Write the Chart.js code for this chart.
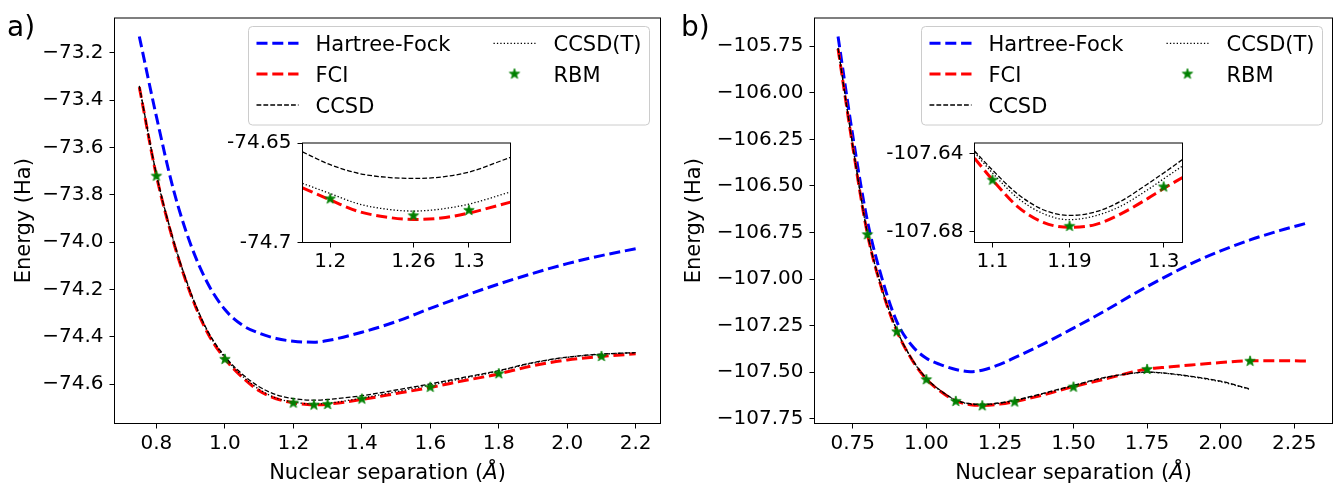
<!DOCTYPE html>
<html>
<head>
<meta charset="utf-8">
<script src="https://cdn.jsdelivr.net/npm/chart.js@4.4.0/dist/chart.umd.min.js"></script>
<style>
  html, body { margin: 0; padding: 0; background: #fff; }
  #wrap { position: relative; width: 1340px; height: 485px; overflow: hidden; font-family: 'DejaVu Sans', sans-serif; }
  #wrap canvas { position: absolute; }
  .tag { position: absolute; font-size: 28px; line-height: 28px; color: #000; white-space: nowrap; }
</style>
</head>
<body>
<div id="wrap">
  <canvas id="mainA" width="670" height="485" style="left:0;top:0"></canvas>
  <canvas id="mainB" width="670" height="485" style="left:670px;top:0"></canvas>
  <canvas id="insetA" width="300" height="150" style="left:220px;top:125px"></canvas>
  <canvas id="insetB" width="315" height="150" style="left:880px;top:125px"></canvas>
  <div class="tag" style="left:7px;top:13px">a)</div>
  <div class="tag" style="left:681px;top:13px">b)</div>
</div>
<script>
// ---- panel a) ----
const sepA = [0.75, 0.8, 0.85, 0.9, 0.95, 1.0, 1.05, 1.1, 1.15, 1.2, 1.26, 1.3, 1.4, 1.5, 1.6, 1.7, 1.8, 1.9, 2.0, 2.1, 2.2];
const hartreeFockA = [-73.131, -73.47, -73.78, -74.01, -74.175, -74.285, -74.35, -74.385, -74.407, -74.419, -74.423, -74.416, -74.381, -74.336, -74.28, -74.227, -74.177, -74.132, -74.091, -74.057, -74.028];
const fciA = [-73.345, -73.72, -74.00, -74.22, -74.385, -74.493, -74.570, -74.628, -74.662, -74.679, -74.688, -74.685, -74.665, -74.640, -74.614, -74.585, -74.557, -74.522, -74.498, -74.483, -74.472];
const ccsdA = [-73.34, -73.714, -73.993, -74.212, -74.376, -74.483, -74.557, -74.611, -74.645, -74.661, -74.668, -74.665, -74.649, -74.625, -74.599, -74.571, -74.543, -74.509, -74.486, -74.473, -74.467];
const ccsdtA = [-73.343, -73.717, -73.997, -74.217, -74.381, -74.489, -74.565, -74.622, -74.659, -74.676, -74.684, -74.681, -74.659, -74.632, -74.604, -74.575, -74.545, -74.511, -74.487, -74.474, -74.467];
const rbmSepA = [0.8, 1.0, 1.2, 1.26, 1.3, 1.4, 1.6, 1.8, 2.1];
const rbmA = [-73.719, -74.493, -74.6778, -74.6863, -74.6836, -74.661, -74.611, -74.554, -74.481];
const xTicksA = [0.8, 1.0, 1.2, 1.4, 1.6, 1.8, 2.0, 2.2];
const xLabelsA = ['0.8', '1.0', '1.2', '1.4', '1.6', '1.8', '2.0', '2.2'];
const yTicksA = [-74.6, -74.4, -74.2, -74.0, -73.8, -73.6, -73.4, -73.2];
const yLabelsA = ['\u221274.6', '\u221274.4', '\u221274.2', '\u221274.0', '\u221273.8', '\u221273.6', '\u221273.4', '\u221273.2'];

// inset of panel a)
const insetSepA = [1.18, 1.2, 1.22, 1.24, 1.26, 1.28, 1.3, 1.33];
const insetFciA = [-74.6725, -74.6786, -74.6843, -74.6872, -74.6884, -74.6877, -74.6852, -74.6797];
const insetCcsdA = [-74.6545, -74.6609, -74.6652, -74.6672, -74.6678, -74.6671, -74.6646, -74.6572];
const insetCcsdtA = [-74.6703, -74.6754, -74.6805, -74.6832, -74.6842, -74.6832, -74.6807, -74.6746];
const insetXTicksA = [1.2, 1.26, 1.3];
const insetXLabelsA = ['1.2', '1.26', '1.3'];
const insetYTicksA = [-74.7, -74.65];
const insetYLabelsA = ['-74.7', '-74.65'];

// ---- panel b) ----
const sepB = [0.7, 0.75, 0.8, 0.85, 0.9, 0.95, 1.0, 1.05, 1.1, 1.15, 1.19, 1.25, 1.3, 1.4, 1.5, 1.6, 1.7, 1.75, 1.8, 1.9, 2.0, 2.1, 2.2, 2.3];
const hartreeFockB = [-105.698, -106.23, -106.69, -107.00, -107.23, -107.355, -107.425, -107.46, -107.485, -107.497, -107.489, -107.458, -107.422, -107.346, -107.263, -107.177, -107.084, -107.04, -106.998, -106.917, -106.849, -106.79, -106.74, -106.697];
const fciB = [-105.764, -106.29, -106.759, -107.06, -107.28, -107.43, -107.537, -107.605, -107.6535, -107.674, -107.6779, -107.671, -107.658, -107.62, -107.577, -107.539, -107.499, -107.482, -107.475, -107.461, -107.448, -107.438, -107.438, -107.44];
const ccsdB = [-105.76, -106.285, -106.755, -107.055, -107.275, -107.426, -107.532, -107.600, -107.649, -107.669, -107.6718, -107.664, -107.650, -107.612, -107.570, -107.530, -107.505, -107.499, -107.503, -107.522, -107.548, -107.59, null, null];
const ccsdtB = [-105.762, -106.287, -106.757, -107.057, -107.277, -107.428, -107.534, -107.602, -107.651, -107.671, -107.674, -107.667, -107.653, -107.615, -107.573, -107.532, -107.506, -107.5, -107.504, -107.524, -107.551, -107.592, null, null];
const rbmSepB = [0.8, 0.9, 1.0, 1.1, 1.19, 1.3, 1.5, 1.75, 2.1];
const rbmB = [-106.759, -107.28, -107.537, -107.6534, -107.6771, -107.6569, -107.577, -107.482, -107.438];
const xTicksB = [0.75, 1.0, 1.25, 1.5, 1.75, 2.0, 2.25];
const xLabelsB = ['0.75', '1.00', '1.25', '1.50', '1.75', '2.00', '2.25'];
const yTicksB = [-107.75, -107.5, -107.25, -107.0, -106.75, -106.5, -106.25, -106.0, -105.75];
const yLabelsB = ['\u2212107.75', '\u2212107.50', '\u2212107.25', '\u2212107.00', '\u2212106.75', '\u2212106.50', '\u2212106.25', '\u2212106.00', '\u2212105.75'];

// inset of panel b)
const insetSepB = [1.079, 1.1, 1.13, 1.16, 1.19, 1.22, 1.25, 1.28, 1.3, 1.322];
const insetFciB = [-107.6424, -107.6535, -107.6675, -107.6755, -107.6779, -107.6765, -107.671, -107.6635, -107.658, -107.6523];
const insetCcsdB = [-107.6387, -107.6485, -107.661, -107.669, -107.6718, -107.670, -107.6645, -107.656, -107.650, -107.6431];
const insetCcsdtB = [-107.6395, -107.650, -107.663, -107.671, -107.674, -107.672, -107.667, -107.659, -107.653, -107.6464];
const insetXTicksB = [1.1, 1.19, 1.3];
const insetXLabelsB = ['1.1', '1.19', '1.3'];
const insetYTicksB = [-107.68, -107.64];
const insetYLabelsB = ['-107.68', '-107.64'];

const FONT = "'DejaVu Sans', sans-serif";
Chart.defaults.font.family = FONT;
Chart.defaults.color = '#000';

function pts(xs, ys) {
    const out = [];
    xs.forEach((x, i) => { if (ys[i] !== null) out.push({ x: x, y: ys[i] }); });
    return out;
}

function drawStar(ctx, cx, cy, r) {
    ctx.beginPath();
    for (let k = 0; k < 10; k++) {
        const rr = k % 2 === 0 ? r : r * 0.4;
        const a = -Math.PI / 2 + k * Math.PI / 5;
        ctx.lineTo(cx + rr * Math.cos(a), cy + rr * Math.sin(a));
    }
    ctx.closePath();
    ctx.fillStyle = '#008000';
    ctx.fill();
    ctx.lineWidth = 0.8;
    ctx.strokeStyle = '#008000';
    ctx.stroke();
}

// star marker used as point style
const starImg = document.createElement('canvas');
starImg.width = 14;
starImg.height = 14;
drawStar(starImg.getContext('2d'), 7, 7.5, 5.5);

function lineSet(label, data, color, width, dash, order, clip) {
    return {
        label: label, data: data, borderColor: color, borderWidth: width, borderDash: dash,
        pointRadius: 0, fill: false, cubicInterpolationMode: 'monotone', order: order, clip: clip
    };
}

function starSet(label, data, order, clip) {
    return {
        label: label, data: data, showLine: false, pointStyle: starImg, pointRadius: 6,
        borderColor: '#008000', backgroundColor: '#008000', order: order, clip: clip
    };
}

function axis(o) {
    return {
        type: 'linear', min: o.min, max: o.max, bounds: 'data',
        afterBuildTicks: s => { s.ticks = o.ticks.map(v => ({ value: v })); },
        afterFit: o.fit,
        ticks: {
            callback: (v, i) => o.labels[i], color: '#000', font: { family: FONT, size: 20 },
            padding: o.pad, autoSkip: false, maxRotation: 0, minRotation: 0
        },
        grid: { drawOnChartArea: false, drawTicks: true, tickLength: 5, color: '#000', lineWidth: 1 },
        border: { display: false },
        title: o.title
            ? { display: true, text: o.title, color: '#000', font: { family: FONT, size: 21 }, padding: o.titlePad }
            : { display: false }
    };
}

// white background + black box around the axes
const framePlugin = {
    id: 'frame',
    beforeDraw(chart, args, opts) {
        const ctx = chart.ctx, a = chart.chartArea;
        ctx.save();
        ctx.fillStyle = '#fff';
        if (opts.full) ctx.fillRect(0, 0, chart.width, chart.height);
        else ctx.fillRect(a.left, a.top, a.right - a.left, a.bottom - a.top);
        ctx.restore();
    },
    afterDatasetsDraw(chart) {
        const ctx = chart.ctx, a = chart.chartArea;
        ctx.save();
        ctx.strokeStyle = '#000';
        ctx.lineWidth = 1;
        ctx.strokeRect(a.left, a.top, a.right - a.left, a.bottom - a.top);
        ctx.restore();
    },
    afterDraw(chart, args, opts) {
        // x title with the italic angstrom sign, as matplotlib mathtext draws it
        if (!opts.xTitle) return;
        const ctx = chart.ctx, a = chart.chartArea;
        const parts = [['Nuclear separation (', ''], ['\u00c5', 'italic '], [')', '']];
        ctx.save();
        ctx.fillStyle = '#000';
        ctx.textBaseline = 'alphabetic';
        ctx.textAlign = 'left';
        let total = 0;
        parts.forEach(p => { ctx.font = p[1] + '21px ' + FONT; total += ctx.measureText(p[0]).width; });
        let x = (a.left + a.right) / 2 - total / 2;
        parts.forEach(p => {
            ctx.font = p[1] + '21px ' + FONT;
            ctx.fillText(p[0], x, 479);
            x += ctx.measureText(p[0]).width;
        });
        ctx.restore();
    }
};

// two-column legend in a rounded box, column-major like matplotlib
const legendPlugin = {
    id: 'boxLegend',
    afterDraw(chart, args, o) {
        if (!o || o.left === undefined) return;
        const ctx = chart.ctx;
        const r = 4, x = o.left, y = o.top, w = o.w, h = o.h;
        ctx.save();
        ctx.beginPath();
        ctx.moveTo(x + r, y);
        ctx.lineTo(x + w - r, y);
        ctx.quadraticCurveTo(x + w, y, x + w, y + r);
        ctx.lineTo(x + w, y + h - r);
        ctx.quadraticCurveTo(x + w, y + h, x + w - r, y + h);
        ctx.lineTo(x + r, y + h);
        ctx.quadraticCurveTo(x, y + h, x, y + h - r);
        ctx.lineTo(x, y + r);
        ctx.quadraticCurveTo(x, y, x + r, y);
        ctx.closePath();
        ctx.fillStyle = 'rgba(255,255,255,0.8)';
        ctx.fill();
        ctx.strokeStyle = '#cccccc';
        ctx.lineWidth = 1;
        ctx.stroke();

        const rows = [16.8, 47.5, 78.5];
        const cols = [{ h0: 8, h1: 50, t: 67 }, { h0: 245, h1: 287, t: 305 }];
        ctx.font = '21px ' + FONT;
        ctx.textBaseline = 'alphabetic';
        ctx.textAlign = 'left';
        chart.data.datasets.forEach((ds, i) => {
            const c = cols[Math.floor(i / 3)];
            const yy = y + rows[i % 3];
            if (ds.showLine === false) {
                ctx.drawImage(starImg, x + (c.h0 + c.h1) / 2 - 7, yy - 7.5);
            } else {
                ctx.beginPath();
                ctx.setLineDash(ds.borderDash);
                ctx.strokeStyle = ds.borderColor;
                ctx.lineWidth = ds.borderWidth;
                ctx.moveTo(x + c.h0, yy);
                ctx.lineTo(x + c.h1, yy);
                ctx.stroke();
                ctx.setLineDash([]);
            }
            ctx.fillStyle = '#000';
            ctx.fillText(ds.label, x + c.t, yy + 7.7);
        });
        ctx.restore();
    }
};

function mainPanel(id, d) {
    return new Chart(document.getElementById(id), {
        type: 'line',
        data: {
            datasets: [
                lineSet('Hartree-Fock', pts(d.sep, d.hf), '#0000ff', 3, [11, 4.8], 5),
                lineSet('FCI', pts(d.sep, d.fci), '#ff0000', 3, [11, 4.8], 4),
                lineSet('CCSD', pts(d.sep, d.ccsd), '#000000', 1.3, [4.8, 2.1], 3),
                lineSet('CCSD(T)', pts(d.sep, d.ccsdt), '#000000', 1.3, [1.3, 2.1], 2),
                starSet('RBM', pts(d.rbmSep, d.rbm), 1)
            ]
        },
        options: {
            responsive: false, animation: false, events: [],
            layout: { padding: { left: 0, top: 15.5, right: d.padRight, bottom: 0 } },
            plugins: {
                legend: { display: false }, tooltip: { enabled: false },
                boxLegend: d.legend, frame: { full: true, xTitle: true }
            },
            scales: {
                x: axis({
                    min: d.xMin, max: d.xMax, ticks: d.xTicks, labels: d.xLabels, pad: 3,
                    fit: s => { s.height = 61.5; }
                }),
                y: axis({
                    min: d.yMin, max: d.yMax, ticks: d.yTicks, labels: d.yLabels, pad: 6,
                    fit: s => { s.width = d.yWidth; },
                    title: 'Energy (Ha)', titlePad: { top: 12, bottom: 0 }
                })
            }
        },
        plugins: [framePlugin, legendPlugin]
    });
}

function insetPanel(id, d) {
    return new Chart(document.getElementById(id), {
        type: 'line',
        data: {
            datasets: [
                lineSet('FCI', pts(d.sep, d.fci), '#ff0000', 3, [11, 4.8], 4, 0),
                lineSet('CCSD', pts(d.sep, d.ccsd), '#000000', 1.3, [4.8, 2.1], 3, 0),
                lineSet('CCSD(T)', pts(d.sep, d.ccsdt), '#000000', 1.3, [1.3, 2.1], 2, 0),
                starSet('RBM', pts(d.rbmSep, d.rbm), 1, 0)
            ]
        },
        options: {
            responsive: false, animation: false, events: [],
            layout: { padding: { left: 0, top: d.padTop, right: d.padRight, bottom: 0 } },
            plugins: { legend: { display: false }, tooltip: { enabled: false }, frame: { full: false, xTitle: false } },
            scales: {
                x: axis({
                    min: d.xMin, max: d.xMax, ticks: d.xTicks, labels: d.xLabels, pad: 2,
                    fit: s => { s.height = 32.5; }
                }),
                y: axis({
                    min: d.yMin, max: d.yMax, ticks: d.yTicks, labels: d.yLabels, pad: 6,
                    fit: s => { s.width = d.yWidth; }
                })
            }
        },
        plugins: [framePlugin]
    });
}

mainPanel('mainA', {
    sep: sepA, hf: hartreeFockA, fci: fciA, ccsd: ccsdA, ccsdt: ccsdtA, rbmSep: rbmSepA, rbm: rbmA,
    xMin: 0.6775, xMax: 2.2725, yMin: -74.7665, yMax: -73.053,
    xTicks: xTicksA, xLabels: xLabelsA, yTicks: yTicksA, yLabels: yLabelsA,
    yWidth: 114.5, padRight: 9.5,
    legend: { left: 248.5, top: 26.5, w: 401, h: 98.5 }
});

mainPanel('mainB', {
    sep: sepB, hf: hartreeFockB, fci: fciB, ccsd: ccsdB, ccsdt: ccsdtB, rbmSep: rbmSepB, rbm: rbmB,
    xMin: 0.62, xMax: 2.38, yMin: -107.775, yMax: -105.599,
    xTicks: xTicksB, xLabels: xLabelsB, yTicks: yTicksB, yLabels: yLabelsB,
    yWidth: 144.5, padRight: 7.5,
    legend: { left: 251.5, top: 26.5, w: 401, h: 98.5 }
});

insetPanel('insetA', {
    sep: insetSepA, fci: insetFciA, ccsd: insetCcsdA, ccsdt: insetCcsdtA, rbmSep: rbmSepA, rbm: rbmA,
    xMin: 1.18, xMax: 1.33, yMin: -74.70, yMax: -74.65,
    xTicks: insetXTicksA, xLabels: insetXLabelsA, yTicks: insetYTicksA, yLabels: insetYLabelsA,
    yWidth: 82.5, padTop: 14.5, padRight: 9.5
});

insetPanel('insetB', {
    sep: insetSepB, fci: insetFciB, ccsd: insetCcsdB, ccsdt: insetCcsdtB, rbmSep: rbmSepB, rbm: rbmB,
    xMin: 1.079, xMax: 1.322, yMin: -107.6857, yMax: -107.6346,
    xTicks: insetXTicksB, xLabels: insetXLabelsB, yTicks: insetYTicksB, yLabels: insetYLabelsB,
    yWidth: 94.5, padTop: 13.5, padRight: 12.5
});
</script>
</body>
</html>
